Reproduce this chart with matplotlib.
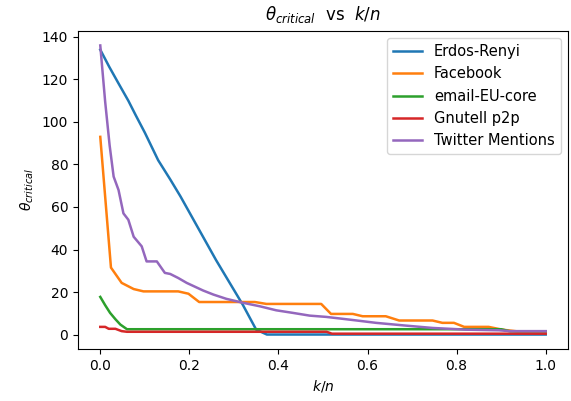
import matplotlib
matplotlib.use('Agg')
import matplotlib.pyplot as plt

# values (k/n, theta_critical)
er_x = [0, 0.02, 0.04, 0.063, 0.08, 0.10, 0.13, 0.157, 0.18, 0.22, 0.24, 0.26, 0.28, 0.30, 0.32, 0.35, 0.374, 0.5, 0.75, 1.0]
er_y = [134, 126, 118.5, 110, 103, 95, 82, 73, 65, 50, 42.5, 35, 28, 21, 14, 2.3, 0, 0, 0, 0]

fb_x = [0, 0.024, 0.048, 0.075, 0.097, 0.175, 0.198, 0.222, 0.347, 0.373, 0.496, 0.518, 0.567, 0.589,
        0.641, 0.671, 0.746, 0.768, 0.794, 0.817, 0.872, 0.902, 0.936, 1.0]
fb_y = [93, 31.5, 24.3, 21.4, 20.3, 20.3, 19.2, 15.3, 15.3, 14.4, 14.4, 9.7, 9.7, 8.6,
        8.6, 6.6, 6.6, 5.5, 5.5, 3.6, 3.6, 2.3, 1.5, 1.5]

em_x = [0, 0.011, 0.022, 0.034, 0.045, 0.06, 0.3, 0.6, 0.9, 0.92, 1.0]
em_y = [17.7, 13.8, 10.2, 7.2, 4.7, 2.5, 2.5, 2.5, 2.5, 1.5, 1.5]

gn_x = [0, 0.011, 0.019, 0.034, 0.048, 0.06, 0.3, 0.508, 0.52, 0.75, 1.0]
gn_y = [3.6, 3.6, 2.7, 2.7, 1.6, 1.3, 1.3, 1.3, 0.4, 0.4, 0.4]

tw_x = [0, 0.011, 0.021, 0.030, 0.041, 0.052, 0.063, 0.075, 0.093, 0.104, 0.127, 0.145, 0.157,
        0.175, 0.194, 0.231, 0.254, 0.283, 0.321, 0.358, 0.395, 0.432, 0.47, 0.507, 0.544,
        0.576, 0.619, 0.686, 0.746, 0.82, 0.895, 0.92, 1.0]
tw_y = [136, 109.5, 89, 74.3, 68, 57, 54, 46, 41.5, 34.4, 34.4, 29, 28.5,
        26.6, 24.3, 20.7, 18.8, 16.8, 14.9, 13.3, 11.4, 10.2, 8.9, 8.3, 7.4,
        6.6, 5.5, 4.2, 3.1, 2.3, 2.0, 1.6, 1.6]

fig = plt.figure(figsize=(5.71, 4.01), dpi=100)
ax = fig.add_axes([0.1366, 0.1297, 0.8581, 0.793])

lw = 1.8
ax.plot(er_x, er_y, lw=lw, label='Erdos-Renyi')
ax.plot(fb_x, fb_y, lw=lw, label='Facebook')
ax.plot(em_x, em_y, lw=lw, label='email-EU-core')
ax.plot(gn_x, gn_y, lw=lw, label='Gnutell p2p')
ax.plot(tw_x, tw_y, lw=lw, label='Twitter Mentions')

ax.set_title(r'$\theta_{critical}$  vs  $k/n$', pad=8)
ax.set_xlabel(r'$k/n$')
ax.set_ylabel(r'$\theta_{critical}$')
ax.legend(loc='upper right', fontsize=10.5)

fig.savefig('out.png', dpi=100)
